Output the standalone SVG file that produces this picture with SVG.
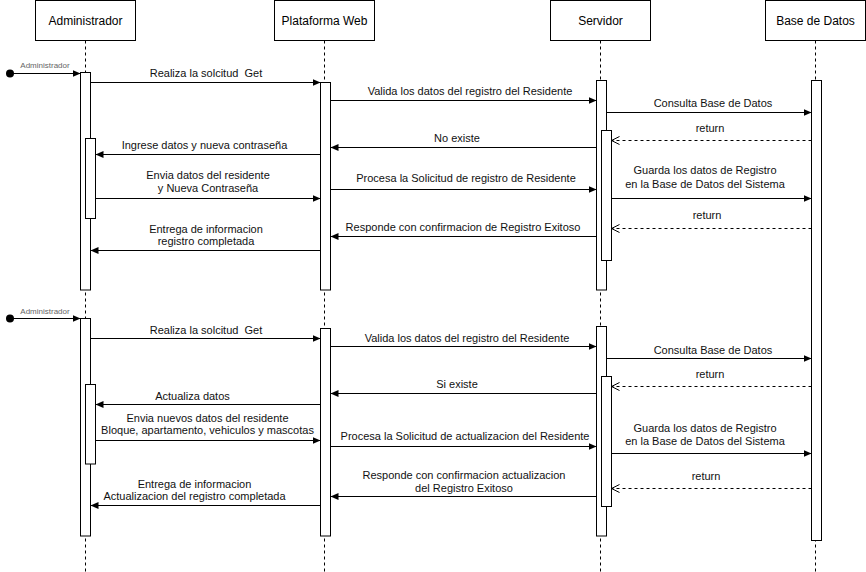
<svg xmlns="http://www.w3.org/2000/svg" width="866" height="572" viewBox="0 0 866 572">
<style>
.box{fill:#fff;stroke:#000;stroke-width:1}
.life{stroke:#000;stroke-width:1;stroke-dasharray:3 3;fill:none}
.act{fill:#fff;stroke:#000;stroke-width:1}
.msg{stroke:#000;stroke-width:1;fill:none;marker-end:url(#block)}
.ret{stroke:#000;stroke-width:1;fill:none;stroke-dasharray:3 3;marker-end:url(#open)}
.hd{font-family:"Liberation Sans",Arial,sans-serif;font-size:12px;fill:#000;text-anchor:middle}
.lb{font-family:"Liberation Sans",Arial,sans-serif;font-size:11px;fill:#111;text-anchor:middle}
.sm{font-family:"Liberation Sans",Arial,sans-serif;font-size:8px;fill:#666;text-anchor:middle}
</style>
<defs>
<marker id="block" markerUnits="userSpaceOnUse" markerWidth="9" markerHeight="8" refX="8" refY="3.5" orient="auto">
<path d="M0,0 L8,3.5 L0,7 z" fill="#000"/>
</marker>
<marker id="open" markerUnits="userSpaceOnUse" markerWidth="10" markerHeight="10" refX="8.5" refY="4.5" orient="auto">
<path d="M0.5,0.5 L8.5,4.5 L0.5,8.5" fill="none" stroke="#000" stroke-width="1"/>
</marker>
</defs>
<rect width="866" height="572" fill="#fff"/>
<g id="administrador">
<line class="life" x1="85.5" y1="40.5" x2="85.5" y2="572"/>
<rect class="box" x="35.5" y="0.5" width="100" height="40"/>
<text class="hd" x="85.5" y="24.5">Administrador</text>
<rect class="act" x="80.5" y="72.5" width="10" height="217.5"/>
<rect class="act" x="85.5" y="138.5" width="10" height="80"/>
<rect class="act" x="80.5" y="318.5" width="10" height="217.5"/>
<rect class="act" x="85.5" y="384.5" width="10" height="79.5"/>
</g>
<g id="plataforma">
<line class="life" x1="324.5" y1="40.5" x2="324.5" y2="572"/>
<rect class="box" x="274.5" y="0.5" width="100" height="40"/>
<text class="hd" x="324.5" y="24.5">Plataforma Web</text>
<rect class="act" x="320.5" y="82.5" width="10" height="207.5"/>
<rect class="act" x="320.5" y="328.5" width="10" height="207.5"/>
</g>
<g id="servidor">
<line class="life" x1="600.5" y1="40.5" x2="600.5" y2="572"/>
<rect class="box" x="550.5" y="0.5" width="100" height="40"/>
<text class="hd" x="600.5" y="24.5">Servidor</text>
<rect class="act" x="596.5" y="80.5" width="10" height="209.5"/>
<rect class="act" x="601.5" y="130.5" width="10" height="130"/>
<rect class="act" x="596.5" y="326.5" width="10" height="209.5"/>
<rect class="act" x="601.5" y="376.5" width="10" height="130"/>
</g>
<g id="basedatos">
<line class="life" x1="815.5" y1="40.5" x2="815.5" y2="572"/>
<rect class="box" x="765.5" y="0.5" width="100" height="40"/>
<text class="hd" x="815.5" y="24.5">Base de Datos</text>
<rect class="act" x="811.5" y="80.5" width="10" height="460"/>
</g>
<g id="connectors">
<circle cx="10" cy="73.5" r="4" fill="#000"/>
<line class="msg" x1="13" y1="73.5" x2="80.5" y2="73.5"/>
<text class="sm" x="45" y="68">Administrador</text>
<line class="msg" x1="90.5" y1="82.5" x2="320.5" y2="82.5"/>
<text class="lb" x="206" y="77" xml:space="preserve">Realiza la solcitud  Get</text>
<line class="msg" x1="330.5" y1="100.5" x2="596.5" y2="100.5"/>
<text class="lb" x="470" y="95">Valida los datos del registro del Residente</text>
<line class="msg" x1="606.5" y1="112.5" x2="811.5" y2="112.5"/>
<text class="lb" x="713" y="106.5">Consulta Base de Datos</text>
<line class="ret" x1="811.5" y1="140.5" x2="611.5" y2="140.5"/>
<text class="lb" x="710" y="131.5">return</text>
<line class="msg" x1="596.5" y1="147.5" x2="330.5" y2="147.5"/>
<text class="lb" x="457" y="142">No existe</text>
<line class="msg" x1="320.5" y1="154.5" x2="95.5" y2="154.5"/>
<text class="lb" x="204.5" y="149">Ingrese datos y nueva contraseña</text>
<line class="msg" x1="330.5" y1="189.5" x2="596.5" y2="189.5"/>
<text class="lb" x="466" y="181.5">Procesa la Solicitud de registro de Residente</text>
<line class="msg" x1="95.5" y1="198.5" x2="320.5" y2="198.5"/>
<text class="lb" x="208" y="179">Envia datos del residente</text>
<text class="lb" x="208" y="192">y Nueva Contraseña</text>
<line class="msg" x1="611.5" y1="198.5" x2="811.5" y2="198.5"/>
<text class="lb" x="705" y="173.5">Guarda los datos de Registro</text>
<text class="lb" x="705" y="187.5">en la Base de Datos del Sistema</text>
<line class="ret" x1="811.5" y1="228.5" x2="611.5" y2="228.5"/>
<text class="lb" x="707" y="219">return</text>
<line class="msg" x1="596.5" y1="236.5" x2="330.5" y2="236.5"/>
<text class="lb" x="463" y="231">Responde con confirmacion de Registro Exitoso</text>
<line class="msg" x1="320.5" y1="250.5" x2="90.5" y2="250.5"/>
<text class="lb" x="206" y="232.5">Entrega de informacion</text>
<text class="lb" x="206" y="245">registro completada</text>

<circle cx="10" cy="318.5" r="4" fill="#000"/>
<line class="msg" x1="13" y1="318.5" x2="80.5" y2="318.5"/>
<text class="sm" x="45" y="314">Administrador</text>
<line class="msg" x1="90.5" y1="338.5" x2="320.5" y2="338.5"/>
<text class="lb" x="206" y="333.5" xml:space="preserve">Realiza la solcitud  Get</text>
<line class="msg" x1="330.5" y1="346.5" x2="596.5" y2="346.5"/>
<text class="lb" x="467" y="341.5">Valida los datos del registro del Residente</text>
<line class="msg" x1="606.5" y1="358.5" x2="811.5" y2="358.5"/>
<text class="lb" x="713" y="353.5">Consulta Base de Datos</text>
<line class="ret" x1="811.5" y1="386.5" x2="611.5" y2="386.5"/>
<text class="lb" x="710" y="377.5">return</text>
<line class="msg" x1="596.5" y1="393.5" x2="330.5" y2="393.5"/>
<text class="lb" x="457" y="388">Si existe</text>
<line class="msg" x1="320.5" y1="404.5" x2="95.5" y2="404.5"/>
<text class="lb" x="192.5" y="400">Actualiza datos</text>
<line class="msg" x1="95.5" y1="440.5" x2="320.5" y2="440.5"/>
<text class="lb" x="207.5" y="421.5">Envia nuevos datos del residente</text>
<text class="lb" x="207.5" y="434">Bloque, apartamento, vehiculos y mascotas</text>
<line class="msg" x1="330.5" y1="446.5" x2="596.5" y2="446.5"/>
<text class="lb" x="465" y="440">Procesa la Solicitud de actualizacion del Residente</text>
<line class="msg" x1="611.5" y1="453.5" x2="811.5" y2="453.5"/>
<text class="lb" x="705" y="431.5">Guarda los datos de Registro</text>
<text class="lb" x="705" y="445">en la Base de Datos del Sistema</text>
<line class="ret" x1="811.5" y1="488.5" x2="611.5" y2="488.5"/>
<text class="lb" x="706" y="479.5">return</text>
<line class="msg" x1="596.5" y1="496.5" x2="330.5" y2="496.5"/>
<text class="lb" x="464" y="478.5">Responde con confirmacion actualizacion</text>
<text class="lb" x="464" y="491.5">del Registro Exitoso</text>
<line class="msg" x1="320.5" y1="505.5" x2="90.5" y2="505.5"/>
<text class="lb" x="194.5" y="487.5">Entrega de informacion</text>
<text class="lb" x="194.5" y="500">Actualizacion del registro completada</text>
</g>
</svg>
